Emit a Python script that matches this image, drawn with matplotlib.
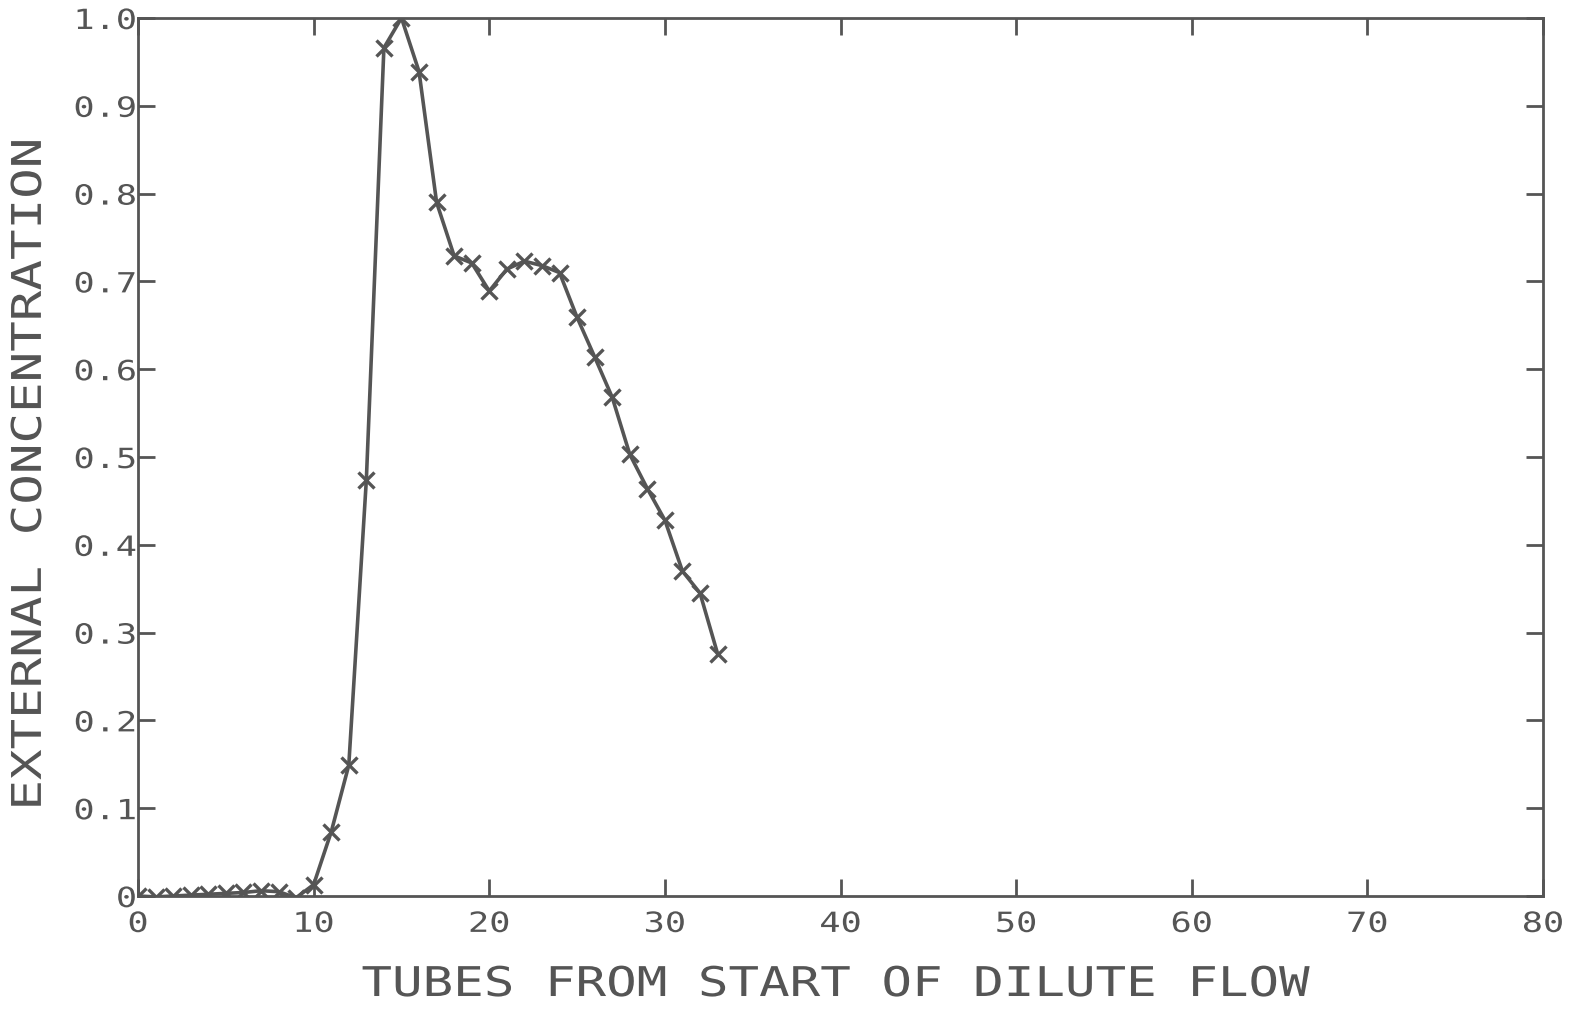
import numpy
from matplotlib import pyplot
from matplotlib.transforms import Affine2D
from matplotlib.patheffects import AbstractPathEffect

# tube number vs external concentration
tubes = numpy.arange(0, 34)
conc = [0.000, -0.001, 0.000, 0.001, 0.002, 0.003, 0.004, 0.006, 0.005, -0.002,
        0.013, 0.073, 0.149, 0.474, 0.966, 1.000, 0.939, 0.790, 0.729, 0.721,
        0.689, 0.714, 0.723, 0.718, 0.710, 0.659, 0.614, 0.568, 0.503, 0.464,
        0.428, 0.370, 0.345, 0.276]

xticks = [0, 10, 20, 30, 40, 50, 60, 70, 80]
yticks = [0, 0.1, 0.2, 0.3, 0.4, 0.5, 0.6, 0.7, 0.8, 0.9, 1.0]
ytick_labels = ["0", "0.1", "0.2", "0.3", "0.4", "0.5", "0.6", "0.7", "0.8", "0.9", "1.0"]

ink = "#555555"
pyplot.rcParams["font.family"] = "DejaVu Sans Mono"


class Stretch(AbstractPathEffect):
    """widen glyphs along the text direction, like the old plotter lettering"""
    def __init__(self, sx, anchor="center"):
        super().__init__()
        self.sx = sx
        self.anchor = anchor

    def draw_path(self, renderer, gc, tpath, affine, rgbFace=None):
        ext = tpath.get_extents()
        cx = {"left": ext.x0, "center": 0.5 * (ext.x0 + ext.x1), "right": ext.x1}[self.anchor]
        t = Affine2D().translate(-cx, 0).scale(self.sx, 1).translate(cx, 0)
        renderer.draw_path(gc, tpath, t + affine, rgbFace)


fig = pyplot.figure(figsize=(15.74, 10.16), dpi=100)
ax = fig.add_axes([0.0877, 0.1181, 0.8926, 0.8642])  # left, bottom, width, height

ax.plot(tubes, conc, c=ink, lw=2.6, marker="x", ms=11, mew=2.4)
ax.set_xlim(0, 80)
ax.set_ylim(0, 1.0)
ax.set_xticks(xticks)
ax.set_xticklabels([str(t) for t in xticks])
ax.set_yticks(yticks)
ax.set_yticklabels(ytick_labels)
ax.tick_params(direction="in", length=12, width=2, color=ink, labelcolor=ink,
    labelsize=20, top=True, right=True)
ax.tick_params(axis="x", pad=10)
ax.tick_params(axis="y", pad=1)
for lab in ax.get_xticklabels():
    lab.set_path_effects([Stretch(1.27, "center")])
for lab in ax.get_yticklabels():
    lab.set_path_effects([Stretch(1.27, "right")])
for s in ax.spines.values():
    s.set_color(ink)
    s.set_linewidth(2)

fig.text(0.5305, 0.0305, "TUBES FROM START OF DILUTE FLOW", ha="center", va="center",
    fontsize=29.5, color=ink, path_effects=[Stretch(1.24)])
fig.text(0.019, 0.533, "EXTERNAL CONCENTRATION", ha="center", va="center",
    rotation=90, fontsize=29.5, color=ink, path_effects=[Stretch(1.24)])

pyplot.savefig("out.png", dpi=100)
